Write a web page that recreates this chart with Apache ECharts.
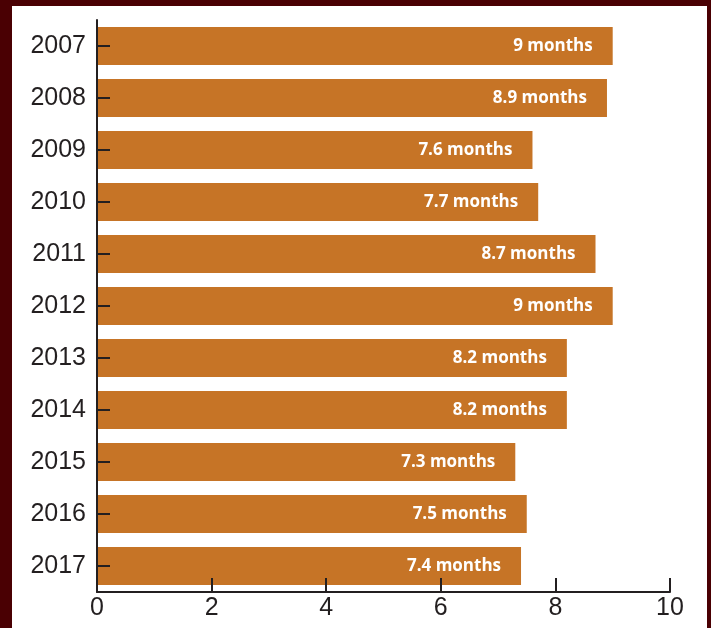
<!DOCTYPE html>
<html>
<head>
<meta charset="utf-8">
<script src="https://cdn.jsdelivr.net/npm/echarts@6/dist/echarts.min.js"></script>
<style>
  html, body { margin: 0; padding: 0; background: #4a0003; width: 711px; height: 628px; overflow: hidden; }
  #chart { position: absolute; left: 12px; top: 6px; width: 695px; height: 622px; background: #ffffff; }
</style>
</head>
<body>
<div id="chart"></div>
<script>
// Years shown on the category axis (top to bottom)
const years = ['2007', '2008', '2009', '2010', '2011', '2012', '2013', '2014', '2015', '2016', '2017'];
// Average duration in months for each year
const months = [9, 8.9, 7.6, 7.7, 8.7, 9, 8.2, 8.2, 7.3, 7.5, 7.4];
// Value axis ticks
const xTicks = [0, 2, 4, 6, 8, 10];

const chart = echarts.init(document.getElementById('chart'));
chart.setOption({
  animation: false,
  grid: { left: 85, top: 14, right: 37, bottom: 36, containLabel: false },
  xAxis: {
    type: 'value',
    min: xTicks[0],
    max: xTicks[xTicks.length - 1],
    interval: 2,
    z: 5,
    splitLine: { show: false },
    axisLine: { show: true, lineStyle: { color: '#231f20', width: 2 } },
    axisTick: { show: true, inside: true, length: 14, lineStyle: { color: '#231f20', width: 2 } },
    axisLabel: { color: '#231f20', fontSize: 25, fontFamily: 'Liberation Sans, Arial, sans-serif', margin: 4 }
  },
  yAxis: {
    type: 'category',
    data: years,
    inverse: true,
    z: 5,
    axisLine: { show: true, lineStyle: { color: '#231f20', width: 2 } },
    axisTick: { show: true, inside: true, length: 13, alignWithLabel: true, lineStyle: { color: '#231f20', width: 2 } },
    axisLabel: { color: '#231f20', fontSize: 25, fontFamily: 'Liberation Sans, Arial, sans-serif', margin: 11 },
    splitLine: { show: false }
  },
  series: [{
    type: 'bar',
    data: months,
    barWidth: 38,
    z: 1,
    itemStyle: { color: '#c67426' },
    label: {
      show: true,
      position: 'insideRight',
      distance: 20,
      color: '#ffffff',
      fontWeight: 'bold',
      fontSize: 17,
      fontFamily: 'Open Sans, Lato, sans-serif',
      formatter: p => p.value + ' months'
    }
  }]
});
</script>
</body>
</html>
